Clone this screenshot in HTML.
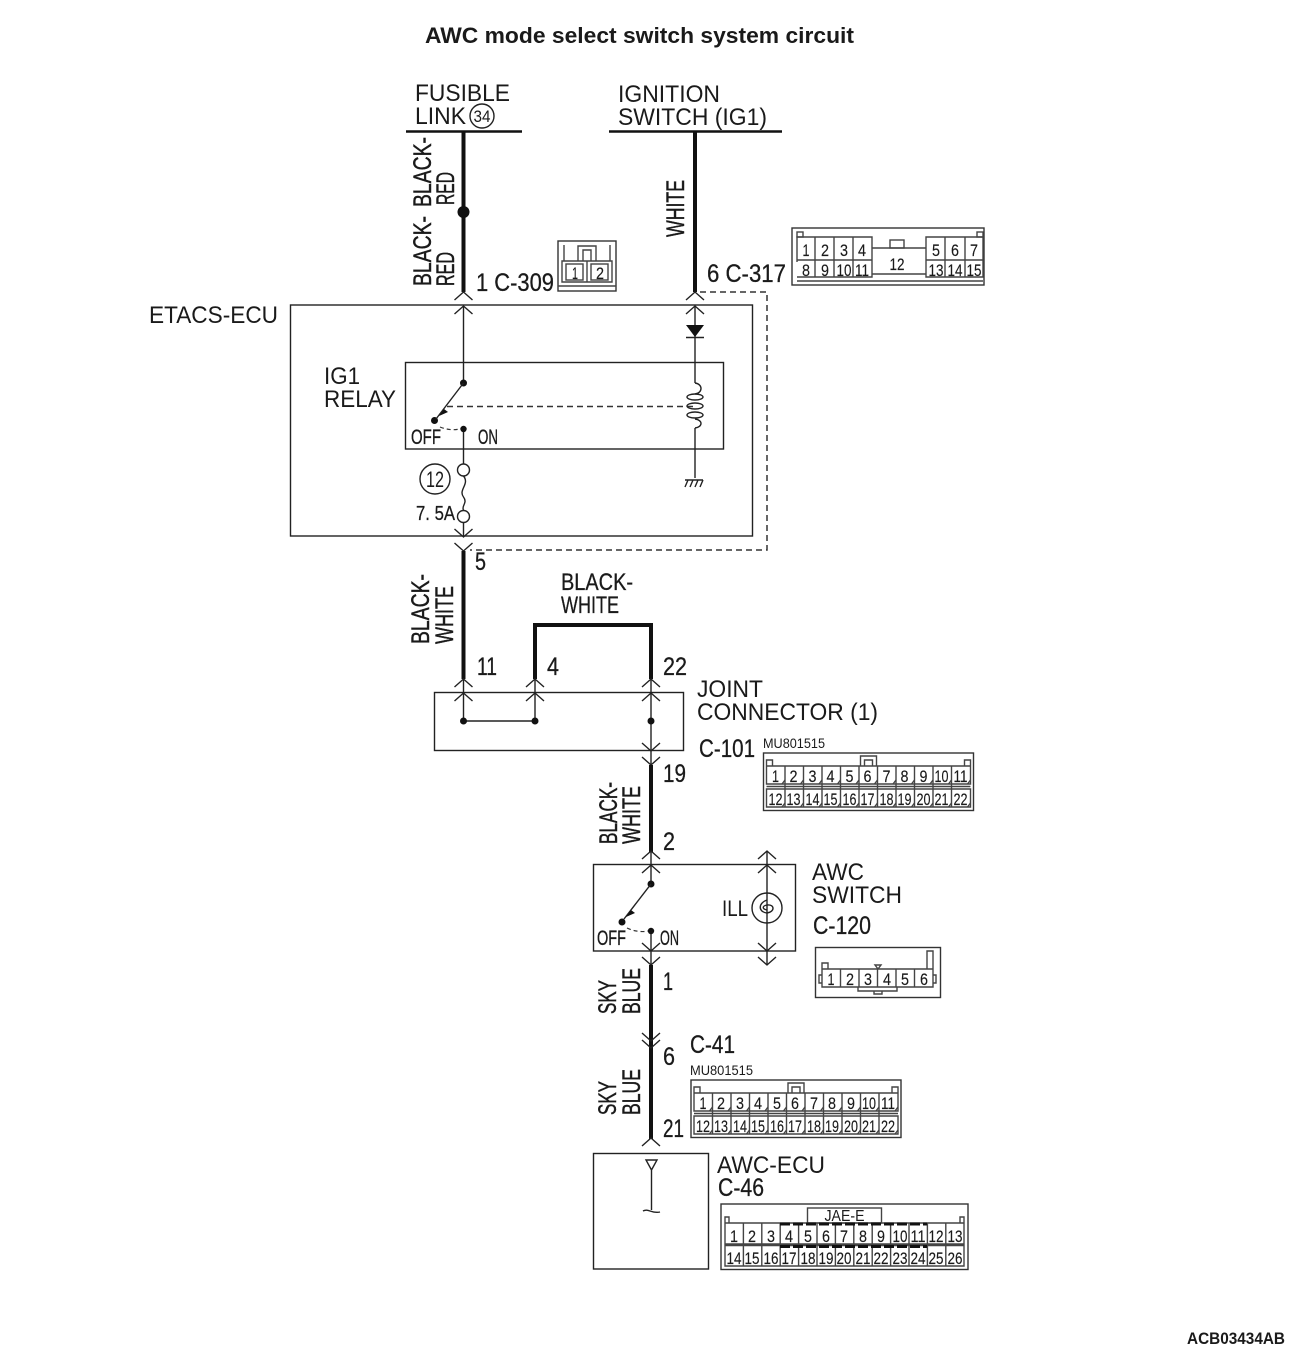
<!DOCTYPE html>
<html><head><meta charset="utf-8"><style>
html,body{margin:0;padding:0;background:#fff}
svg{display:block}
text{font-family:"Liberation Sans",sans-serif;fill:#1a1a1a}
.l{font-size:24px}
.n{font-size:25px;stroke:#1a1a1a;stroke-width:.3}
.r text{stroke:#1a1a1a;stroke-width:.45}
.c{font-size:17px;text-anchor:middle;stroke:#1a1a1a;stroke-width:.15}
.s{fill:none;stroke:#222;stroke-width:1.4}
.b{fill:none;stroke:#111;stroke-width:4}
.d{fill:none;stroke:#333;stroke-width:1.5;stroke-dasharray:6 4}
.k{fill:#111}
.w{fill:#fff;stroke:#333;stroke-width:1.4}
.g{fill:none;stroke:#444;stroke-width:1.4}
</style></head><body>
<svg width="1300" height="1356" viewBox="0 0 1300 1356" xmlns="http://www.w3.org/2000/svg">
<defs>
<path id="up" d="M-9 8L0 0L9 8" fill="none" stroke="#222" stroke-width="1.4"/>
<path id="dn" d="M-9 -8L0 0L9 -8" fill="none" stroke="#222" stroke-width="1.4"/>
</defs>
<text x="425" y="43" font-size="22" font-weight="bold" textLength="429" lengthAdjust="spacingAndGlyphs">AWC mode select switch system circuit</text>
<text x="1187" y="1344" font-size="16.5" font-weight="bold" textLength="98" lengthAdjust="spacingAndGlyphs">ACB03434AB</text>

<!-- top supplies -->
<text class="l" x="415" y="101" textLength="95" lengthAdjust="spacingAndGlyphs">FUSIBLE</text>
<text class="l" x="415" y="124" textLength="51" lengthAdjust="spacingAndGlyphs">LINK</text>
<circle cx="482" cy="116" r="12" class="s"/>
<text x="482" y="122" font-size="17" text-anchor="middle" textLength="17" lengthAdjust="spacingAndGlyphs">34</text>
<text class="l" x="618" y="102" textLength="102" lengthAdjust="spacingAndGlyphs">IGNITION</text>
<text class="l" x="618" y="125" textLength="149" lengthAdjust="spacingAndGlyphs">SWITCH (IG1)</text>
<path d="M406 131.500H522M609 131.500H782" fill="none" stroke="#111" stroke-width="2.500"/>
<path class="b" d="M463.500 131V292M695 131V292"/>
<circle cx="463.500" cy="212" r="6" class="k"/>

<!-- rotated labels -->
<g font-size="25" class="r">
<text transform="translate(431 207) rotate(-90)" textLength="70" lengthAdjust="spacingAndGlyphs">BLACK-</text>
<text transform="translate(454 205) rotate(-90)" textLength="33" lengthAdjust="spacingAndGlyphs">RED</text>
<text transform="translate(431 286) rotate(-90)" textLength="70" lengthAdjust="spacingAndGlyphs">BLACK-</text>
<text transform="translate(454 286) rotate(-90)" textLength="34" lengthAdjust="spacingAndGlyphs">RED</text>
<text transform="translate(684 237) rotate(-90)" textLength="57" lengthAdjust="spacingAndGlyphs">WHITE</text>
<text transform="translate(429 644) rotate(-90)" textLength="70" lengthAdjust="spacingAndGlyphs">BLACK-</text>
<text transform="translate(453 644) rotate(-90)" textLength="58" lengthAdjust="spacingAndGlyphs">WHITE</text>
<text transform="translate(617 844) rotate(-90)" textLength="62" lengthAdjust="spacingAndGlyphs">BLACK-</text>
<text transform="translate(640 844) rotate(-90)" textLength="58" lengthAdjust="spacingAndGlyphs">WHITE</text>
<text transform="translate(616 1014) rotate(-90)" textLength="34" lengthAdjust="spacingAndGlyphs">SKY</text>
<text transform="translate(640 1014) rotate(-90)" textLength="46" lengthAdjust="spacingAndGlyphs">BLUE</text>
<text transform="translate(616 1115) rotate(-90)" textLength="34" lengthAdjust="spacingAndGlyphs">SKY</text>
<text transform="translate(640 1115) rotate(-90)" textLength="46" lengthAdjust="spacingAndGlyphs">BLUE</text>
</g>

<!-- connector labels -->
<text class="n" x="476" y="291" textLength="78" lengthAdjust="spacingAndGlyphs" xml:space="preserve">1 C-309</text>
<text class="n" x="707" y="282" textLength="79" lengthAdjust="spacingAndGlyphs" xml:space="preserve">6 C-317</text>
<text class="l" x="149" y="323" textLength="129" lengthAdjust="spacingAndGlyphs">ETACS-ECU</text>

<!-- C-309 -->
<rect x="558" y="241" width="58" height="50" class="w"/>
<path class="g" d="M564 245V261M610 245V261M578 261V246H596V261M583 261V250H591V261M562 261H612V282H562ZM587 261V282M558 286H616"/>
<rect x="566" y="264" width="17" height="16" class="g"/>
<rect x="591" y="264" width="17" height="16" class="g"/>
<text class="c" x="575" y="279" textLength="6" lengthAdjust="spacingAndGlyphs">1</text>
<text class="c" x="600" y="279" textLength="8" lengthAdjust="spacingAndGlyphs">2</text>

<!-- C-317 -->
<rect x="792" y="228" width="192" height="57" class="w"/>
<path class="g" d="M797 262V237H872V277H797M815 237V277M834 237V277M853 237V277M797 260H872M926 237H983V277H926ZM945 237V277M965 237V277M926 260H983M872 274H926M872 248H926M797 281H983"/>
<rect x="797" y="232" width="6" height="5" class="g"/><rect x="977" y="232" width="6" height="5" class="g"/>
<rect x="890" y="240" width="14" height="8" class="g"/>
<text class="c" x="806" y="256" textLength="7" lengthAdjust="spacingAndGlyphs">1</text>
<text class="c" x="825" y="256" textLength="8" lengthAdjust="spacingAndGlyphs">2</text>
<text class="c" x="844" y="256" textLength="8" lengthAdjust="spacingAndGlyphs">3</text>
<text class="c" x="862" y="256" textLength="8" lengthAdjust="spacingAndGlyphs">4</text>
<text class="c" x="936" y="256" textLength="8" lengthAdjust="spacingAndGlyphs">5</text>
<text class="c" x="955" y="256" textLength="8" lengthAdjust="spacingAndGlyphs">6</text>
<text class="c" x="974" y="256" textLength="8" lengthAdjust="spacingAndGlyphs">7</text>
<text class="c" x="806" y="276" textLength="8" lengthAdjust="spacingAndGlyphs">8</text>
<text class="c" x="825" y="276" textLength="8" lengthAdjust="spacingAndGlyphs">9</text>
<text class="c" x="844" y="276" textLength="15" lengthAdjust="spacingAndGlyphs">10</text>
<text class="c" x="862" y="276" textLength="14" lengthAdjust="spacingAndGlyphs">11</text>
<text class="c" x="897" y="270" textLength="15" lengthAdjust="spacingAndGlyphs">12</text>
<text class="c" x="936" y="276" textLength="15" lengthAdjust="spacingAndGlyphs">13</text>
<text class="c" x="955" y="276" textLength="15" lengthAdjust="spacingAndGlyphs">14</text>
<text class="c" x="974" y="276" textLength="15" lengthAdjust="spacingAndGlyphs">15</text>

<!-- ETACS -->
<rect x="290.500" y="305" width="462" height="231" class="s" stroke-width="1.6"/>
<rect x="405.500" y="362.500" width="318" height="86.500" class="s"/>
<use href="#up" x="463.500" y="292"/><use href="#up" x="463.500" y="306"/>
<use href="#up" x="695" y="292"/><use href="#up" x="695" y="306"/>
<path class="s" d="M463.500 306V383M695 306V383M463.500 429V464M463.500 522V536M695 428V478"/>
<path class="k" d="M686 325H704L695 337Z"/><path class="s" d="M686 337.500H704"/>
<path class="d" d="M700 292H767V550H470"/>
<text class="l" x="324" y="384" textLength="36" lengthAdjust="spacingAndGlyphs">IG1</text>
<text class="l" x="324" y="407" textLength="72" lengthAdjust="spacingAndGlyphs">RELAY</text>
<circle cx="463.500" cy="383" r="3.500" class="k"/><circle cx="434.500" cy="420.500" r="3.500" class="k"/><circle cx="463.500" cy="429" r="3.200" class="k"/>
<path class="s" d="M463.500 383L436 419"/>
<path d="M439 416L444 409L448 412Z" class="k"/>
<path class="d" d="M447 406.500H696"/>
<path d="M440 427Q450 431 460 429" fill="none" stroke="#333" stroke-width="1.2" stroke-dasharray="4 3"/>
<text x="411" y="444" font-size="21" textLength="30" lengthAdjust="spacingAndGlyphs" stroke="#1a1a1a" stroke-width=".3">OFF</text>
<text x="478" y="444" font-size="21" textLength="20" lengthAdjust="spacingAndGlyphs" stroke="#1a1a1a" stroke-width=".3">ON</text>
<path class="s" d="M695 383C703 384 703 393 695 394M695 419C703 420 703 427 695 428"/>
<ellipse cx="695" cy="397" rx="8" ry="3" class="s"/><ellipse cx="695" cy="406" rx="8" ry="3" class="s"/><ellipse cx="695" cy="415" rx="8" ry="3" class="s"/>
<path class="s" d="M685 480H703M688 480L685 487M693 480L690 487M698 480L695 487M703 480L700 487"/>
<circle cx="463.500" cy="470" r="6" class="s"/><circle cx="463.500" cy="516.500" r="6" class="s"/>
<path class="s" d="M463.500 476C470 484 458 490 463.500 497C468 503 461 506 463.500 510"/>
<circle cx="435" cy="479" r="15" class="s"/>
<text x="435" y="487" font-size="22" text-anchor="middle" textLength="18" lengthAdjust="spacingAndGlyphs">12</text>
<text x="416" y="520" font-size="20" textLength="39" lengthAdjust="spacingAndGlyphs" xml:space="preserve" stroke="#1a1a1a" stroke-width=".25">7. 5A</text>
<use href="#dn" x="463.500" y="537"/><use href="#dn" x="463.500" y="551"/>
<text class="n" x="475" y="570" textLength="11" lengthAdjust="spacingAndGlyphs">5</text>

<!-- joint -->
<path class="b" d="M463.500 551V679M535 679V625H651V679" stroke-linejoin="miter"/>
<text class="l" x="561" y="590" textLength="72" lengthAdjust="spacingAndGlyphs" stroke="#1a1a1a" stroke-width=".3">BLACK-</text>
<text class="l" x="561" y="613" textLength="58" lengthAdjust="spacingAndGlyphs" stroke="#1a1a1a" stroke-width=".3">WHITE</text>
<text class="n" x="477" y="675" textLength="20" lengthAdjust="spacingAndGlyphs">11</text>
<text class="n" x="547" y="675" textLength="12" lengthAdjust="spacingAndGlyphs">4</text>
<text class="n" x="663" y="675" textLength="24" lengthAdjust="spacingAndGlyphs">22</text>
<rect x="434.500" y="692.500" width="249" height="58" class="s" stroke="#444"/>
<use href="#up" x="463.500" y="679"/><use href="#up" x="463.500" y="693"/>
<use href="#up" x="535" y="679"/><use href="#up" x="535" y="693"/>
<use href="#up" x="651" y="679"/><use href="#up" x="651" y="693"/>
<path class="s" d="M463.500 679V721H535V679M651 679V765"/>
<circle cx="463.500" cy="721" r="3.500" class="k"/><circle cx="535" cy="721" r="3.500" class="k"/><circle cx="651" cy="721" r="3.500" class="k"/>
<use href="#dn" x="651" y="751"/><use href="#dn" x="651" y="765"/>
<text class="l" x="697" y="697" textLength="66" lengthAdjust="spacingAndGlyphs">JOINT</text>
<text class="l" x="697" y="720" textLength="181" lengthAdjust="spacingAndGlyphs">CONNECTOR (1)</text>
<text class="n" x="699" y="757" textLength="56" lengthAdjust="spacingAndGlyphs">C-101</text>
<text x="763" y="748" font-size="14" textLength="62" lengthAdjust="spacingAndGlyphs">MU801515</text>
<path class="b" d="M651 765V852"/>
<text class="n" x="663" y="782" textLength="23" lengthAdjust="spacingAndGlyphs">19</text>
<text class="n" x="663" y="850" textLength="12" lengthAdjust="spacingAndGlyphs">2</text>

<!-- C-101 connector -->
<g transform="translate(72.500 -327)">
<rect x="691" y="1080" width="210" height="57.500" class="w"/>
<path class="g" d="M694 1093H898V1111H694ZM694 1116H898V1134H694ZM694 1113.500H898M788 1093V1083H804V1093M792 1093V1087H800V1093M694 1093V1087H700V1093M892 1093V1087H898V1093"/>
<path class="g" d="M712.500 1093V1134M731 1093V1134M749.500 1093V1134M768 1093V1134M786.500 1093V1134M805 1093V1134M823.500 1093V1134M842 1093V1134M860.500 1093V1134M879 1093V1134"/>
<path class="g" d="M709.500 1111l3-4M728 1111l3-4M746.500 1111l3-4M765 1111l3-4M783.500 1111l3-4M802 1111l3-4M820.500 1111l3-4M839 1111l3-4M857.500 1111l3-4M876 1111l3-4M895 1111l3-4M709.500 1134l3-4M728 1134l3-4M746.500 1134l3-4M765 1134l3-4M783.500 1134l3-4M802 1134l3-4M820.500 1134l3-4M839 1134l3-4M857.500 1134l3-4M876 1134l3-4M895 1134l3-4"/>
<text class="c" x="703" y="1109" textLength="7" lengthAdjust="spacingAndGlyphs">1</text><text class="c" x="721" y="1109" textLength="8" lengthAdjust="spacingAndGlyphs">2</text><text class="c" x="740" y="1109" textLength="8" lengthAdjust="spacingAndGlyphs">3</text><text class="c" x="758" y="1109" textLength="8" lengthAdjust="spacingAndGlyphs">4</text><text class="c" x="777" y="1109" textLength="8" lengthAdjust="spacingAndGlyphs">5</text><text class="c" x="795" y="1109" textLength="8" lengthAdjust="spacingAndGlyphs">6</text><text class="c" x="814" y="1109" textLength="8" lengthAdjust="spacingAndGlyphs">7</text><text class="c" x="832" y="1109" textLength="8" lengthAdjust="spacingAndGlyphs">8</text><text class="c" x="851" y="1109" textLength="8" lengthAdjust="spacingAndGlyphs">9</text><text class="c" x="869" y="1109" textLength="14" lengthAdjust="spacingAndGlyphs">10</text><text class="c" x="888" y="1109" textLength="14" lengthAdjust="spacingAndGlyphs">11</text>
<text class="c" x="703" y="1132" textLength="14" lengthAdjust="spacingAndGlyphs">12</text><text class="c" x="721" y="1132" textLength="14" lengthAdjust="spacingAndGlyphs">13</text><text class="c" x="740" y="1132" textLength="14" lengthAdjust="spacingAndGlyphs">14</text><text class="c" x="758" y="1132" textLength="14" lengthAdjust="spacingAndGlyphs">15</text><text class="c" x="777" y="1132" textLength="14" lengthAdjust="spacingAndGlyphs">16</text><text class="c" x="795" y="1132" textLength="14" lengthAdjust="spacingAndGlyphs">17</text><text class="c" x="814" y="1132" textLength="14" lengthAdjust="spacingAndGlyphs">18</text><text class="c" x="832" y="1132" textLength="14" lengthAdjust="spacingAndGlyphs">19</text><text class="c" x="851" y="1132" textLength="14" lengthAdjust="spacingAndGlyphs">20</text><text class="c" x="869" y="1132" textLength="14" lengthAdjust="spacingAndGlyphs">21</text><text class="c" x="888" y="1132" textLength="14" lengthAdjust="spacingAndGlyphs">22</text>
</g>

<!-- AWC switch -->
<rect x="593.500" y="864.500" width="202" height="86.500" class="s"/>
<use href="#up" x="651" y="851"/><use href="#up" x="651" y="865"/>
<use href="#up" x="767" y="851"/><use href="#up" x="767" y="865"/>
<path class="s" d="M651 851V884M651 931V965M767 851V965"/>
<circle cx="651" cy="884" r="3.500" class="k"/><circle cx="622" cy="922" r="3.500" class="k"/><circle cx="651" cy="931" r="3.200" class="k"/>
<path class="s" d="M651 884L624 919"/><path class="k" d="M626 917L631 910L635 913Z"/>
<path d="M627 928Q638 933 648 931" fill="none" stroke="#333" stroke-width="1.2" stroke-dasharray="4 3"/>
<text x="597" y="945" font-size="21" textLength="29" lengthAdjust="spacingAndGlyphs" stroke="#1a1a1a" stroke-width=".3">OFF</text>
<text x="660" y="945" font-size="21" textLength="19" lengthAdjust="spacingAndGlyphs" stroke="#1a1a1a" stroke-width=".3">ON</text>
<text x="722" y="916" font-size="22" textLength="26" lengthAdjust="spacingAndGlyphs">ILL</text>
<circle cx="767" cy="908" r="15" class="s"/>
<path class="s" d="M767 900C758 903 758 912 767 913C775 912 775 904 767 905C762 906 762 909 767 910"/>
<use href="#dn" x="651" y="951"/><use href="#dn" x="651" y="965"/>
<use href="#dn" x="767" y="951"/><use href="#dn" x="767" y="965"/>
<text class="l" x="812" y="880" textLength="52" lengthAdjust="spacingAndGlyphs">AWC</text>
<text class="l" x="812" y="903" textLength="90" lengthAdjust="spacingAndGlyphs">SWITCH</text>
<text class="n" x="813" y="934" textLength="58" lengthAdjust="spacingAndGlyphs">C-120</text>

<!-- C-120 -->
<rect x="815.500" y="947.500" width="125" height="50" class="w"/>
<path class="g" d="M822 969H933V987H822ZM840.500 969V987M859 969V987M877.500 969V987M896 969V987M914.500 969V987M822 969V963H828V969M927 969V951H933V969M858 987V991H897V987M874 991V994H882V991M875 965H881L878 969ZM822 975H819V983H822M933 975H936V983H933"/>
<text class="c" x="831" y="985" textLength="7" lengthAdjust="spacingAndGlyphs">1</text><text class="c" x="850" y="985" textLength="8" lengthAdjust="spacingAndGlyphs">2</text><text class="c" x="868" y="985" textLength="8" lengthAdjust="spacingAndGlyphs">3</text><text class="c" x="887" y="985" textLength="8" lengthAdjust="spacingAndGlyphs">4</text><text class="c" x="905" y="985" textLength="8" lengthAdjust="spacingAndGlyphs">5</text><text class="c" x="924" y="985" textLength="8" lengthAdjust="spacingAndGlyphs">6</text>

<!-- lower wire -->
<path class="b" d="M651 965V1139"/>
<use href="#dn" x="651" y="1041"/><use href="#dn" x="651" y="1048"/>
<text class="n" x="663" y="990" textLength="10" lengthAdjust="spacingAndGlyphs">1</text>
<text class="n" x="663" y="1065" textLength="12" lengthAdjust="spacingAndGlyphs">6</text>
<text class="n" x="663" y="1137" textLength="21" lengthAdjust="spacingAndGlyphs">21</text>
<text class="n" x="690" y="1053" textLength="45" lengthAdjust="spacingAndGlyphs">C-41</text>
<text x="690" y="1075" font-size="14" textLength="63" lengthAdjust="spacingAndGlyphs">MU801515</text>
<path class="s" d="M642 1146L651 1138L660 1146"/>

<!-- C-41 connector -->
<rect x="691" y="1080" width="210" height="57.500" class="w"/>
<path class="g" d="M694 1093H898V1111H694ZM694 1116H898V1134H694ZM694 1113.500H898M788 1093V1083H804V1093M792 1093V1087H800V1093M694 1093V1087H700V1093M892 1093V1087H898V1093"/>
<path class="g" d="M712.500 1093V1134M731 1093V1134M749.500 1093V1134M768 1093V1134M786.500 1093V1134M805 1093V1134M823.500 1093V1134M842 1093V1134M860.500 1093V1134M879 1093V1134"/>
<path class="g" d="M709.500 1111l3-4M728 1111l3-4M746.500 1111l3-4M765 1111l3-4M783.500 1111l3-4M802 1111l3-4M820.500 1111l3-4M839 1111l3-4M857.500 1111l3-4M876 1111l3-4M895 1111l3-4M709.500 1134l3-4M728 1134l3-4M746.500 1134l3-4M765 1134l3-4M783.500 1134l3-4M802 1134l3-4M820.500 1134l3-4M839 1134l3-4M857.500 1134l3-4M876 1134l3-4M895 1134l3-4"/>
<text class="c" x="703" y="1109" textLength="7" lengthAdjust="spacingAndGlyphs">1</text><text class="c" x="721" y="1109" textLength="8" lengthAdjust="spacingAndGlyphs">2</text><text class="c" x="740" y="1109" textLength="8" lengthAdjust="spacingAndGlyphs">3</text><text class="c" x="758" y="1109" textLength="8" lengthAdjust="spacingAndGlyphs">4</text><text class="c" x="777" y="1109" textLength="8" lengthAdjust="spacingAndGlyphs">5</text><text class="c" x="795" y="1109" textLength="8" lengthAdjust="spacingAndGlyphs">6</text><text class="c" x="814" y="1109" textLength="8" lengthAdjust="spacingAndGlyphs">7</text><text class="c" x="832" y="1109" textLength="8" lengthAdjust="spacingAndGlyphs">8</text><text class="c" x="851" y="1109" textLength="8" lengthAdjust="spacingAndGlyphs">9</text><text class="c" x="869" y="1109" textLength="14" lengthAdjust="spacingAndGlyphs">10</text><text class="c" x="888" y="1109" textLength="14" lengthAdjust="spacingAndGlyphs">11</text>
<text class="c" x="703" y="1132" textLength="14" lengthAdjust="spacingAndGlyphs">12</text><text class="c" x="721" y="1132" textLength="14" lengthAdjust="spacingAndGlyphs">13</text><text class="c" x="740" y="1132" textLength="14" lengthAdjust="spacingAndGlyphs">14</text><text class="c" x="758" y="1132" textLength="14" lengthAdjust="spacingAndGlyphs">15</text><text class="c" x="777" y="1132" textLength="14" lengthAdjust="spacingAndGlyphs">16</text><text class="c" x="795" y="1132" textLength="14" lengthAdjust="spacingAndGlyphs">17</text><text class="c" x="814" y="1132" textLength="14" lengthAdjust="spacingAndGlyphs">18</text><text class="c" x="832" y="1132" textLength="14" lengthAdjust="spacingAndGlyphs">19</text><text class="c" x="851" y="1132" textLength="14" lengthAdjust="spacingAndGlyphs">20</text><text class="c" x="869" y="1132" textLength="14" lengthAdjust="spacingAndGlyphs">21</text><text class="c" x="888" y="1132" textLength="14" lengthAdjust="spacingAndGlyphs">22</text>

<!-- AWC-ECU -->
<rect x="593.500" y="1153.500" width="115" height="115.500" class="s"/>
<path class="s" d="M646 1160H657L651.500 1170ZM651.500 1170V1210M643 1211C648 1208 652 1214 660 1212"/>
<text class="l" x="717" y="1173" textLength="108" lengthAdjust="spacingAndGlyphs">AWC-ECU</text>
<text class="n" x="718" y="1196" textLength="46" lengthAdjust="spacingAndGlyphs">C-46</text>

<!-- C-46 connector -->
<rect x="721" y="1204" width="247" height="65.500" class="w"/>
<rect x="807.500" y="1208" width="74" height="15" class="g"/>
<text x="844.500" y="1221" font-size="16" text-anchor="middle" textLength="40" lengthAdjust="spacingAndGlyphs">JAE-E</text>
<path class="g" d="M725 1223H964V1244H725ZM725 1245.500H964V1266H725ZM725 1223V1217H729V1223M960 1223V1217H964V1223"/>
<path class="g" d="M743.400 1223V1266M761.800 1223V1266M780.200 1223V1266M798.600 1223V1266M817 1223V1266M835.400 1223V1266M853.800 1223V1266M872.200 1223V1266M890.600 1223V1266M909 1223V1266M927.400 1223V1266M945.800 1223V1266"/>
<path d="M780 1224H927M780 1246.500H927" fill="none" stroke="#111" stroke-width="3" stroke-dasharray="10 3"/>
<text class="c" x="734" y="1242" textLength="8" lengthAdjust="spacingAndGlyphs">1</text><text class="c" x="752" y="1242" textLength="8" lengthAdjust="spacingAndGlyphs">2</text><text class="c" x="771" y="1242" textLength="8" lengthAdjust="spacingAndGlyphs">3</text><text class="c" x="789" y="1242" textLength="8" lengthAdjust="spacingAndGlyphs">4</text><text class="c" x="808" y="1242" textLength="8" lengthAdjust="spacingAndGlyphs">5</text><text class="c" x="826" y="1242" textLength="8" lengthAdjust="spacingAndGlyphs">6</text><text class="c" x="844" y="1242" textLength="8" lengthAdjust="spacingAndGlyphs">7</text><text class="c" x="863" y="1242" textLength="8" lengthAdjust="spacingAndGlyphs">8</text><text class="c" x="881" y="1242" textLength="8" lengthAdjust="spacingAndGlyphs">9</text><text class="c" x="900" y="1242" textLength="15" lengthAdjust="spacingAndGlyphs">10</text><text class="c" x="918" y="1242" textLength="15" lengthAdjust="spacingAndGlyphs">11</text><text class="c" x="936" y="1242" textLength="15" lengthAdjust="spacingAndGlyphs">12</text><text class="c" x="955" y="1242" textLength="15" lengthAdjust="spacingAndGlyphs">13</text>
<text class="c" x="734" y="1264" textLength="15" lengthAdjust="spacingAndGlyphs">14</text><text class="c" x="752" y="1264" textLength="15" lengthAdjust="spacingAndGlyphs">15</text><text class="c" x="771" y="1264" textLength="15" lengthAdjust="spacingAndGlyphs">16</text><text class="c" x="789" y="1264" textLength="15" lengthAdjust="spacingAndGlyphs">17</text><text class="c" x="808" y="1264" textLength="15" lengthAdjust="spacingAndGlyphs">18</text><text class="c" x="826" y="1264" textLength="15" lengthAdjust="spacingAndGlyphs">19</text><text class="c" x="844" y="1264" textLength="15" lengthAdjust="spacingAndGlyphs">20</text><text class="c" x="863" y="1264" textLength="15" lengthAdjust="spacingAndGlyphs">21</text><text class="c" x="881" y="1264" textLength="15" lengthAdjust="spacingAndGlyphs">22</text><text class="c" x="900" y="1264" textLength="15" lengthAdjust="spacingAndGlyphs">23</text><text class="c" x="918" y="1264" textLength="15" lengthAdjust="spacingAndGlyphs">24</text><text class="c" x="936" y="1264" textLength="15" lengthAdjust="spacingAndGlyphs">25</text><text class="c" x="955" y="1264" textLength="15" lengthAdjust="spacingAndGlyphs">26</text>
</svg>
</body></html>
